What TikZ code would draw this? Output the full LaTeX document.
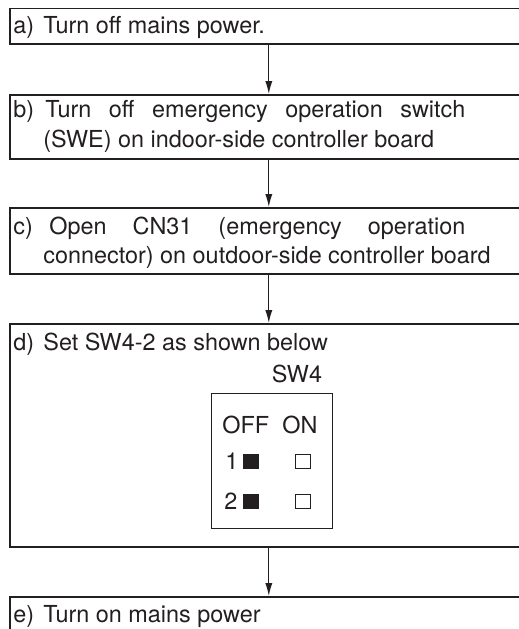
\documentclass[tikz,border=0pt]{standalone}
\usepackage{fontspec}
\setmainfont{TeX Gyre Heros}
\usetikzlibrary{arrows.meta,positioning}
\definecolor{ink}{HTML}{231F20}
\newcommand\steplabel[1]{\makebox[15pt][l]{#1}}

\begin{document}
\begin{tikzpicture}[x=0.5pt,y=-0.5pt,
  stepbox/.style={draw=ink,line width=0.8pt,minimum width=259pt,anchor=north west,inner sep=0pt},
  line/.style={anchor=base west,inner sep=0pt,text=ink,font=\fontsize{11.7}{14}\selectfont},
  flow/.style={-{Latex[length=6.5pt,width=3.6pt]},draw=ink,line width=0.6pt},
  offkey/.style={fill=ink,minimum width=8pt,minimum height=7.5pt,inner sep=0pt},
  onkey/.style={draw=ink,line width=0.5pt,minimum width=7.5pt,minimum height=7pt,inner sep=0pt}
]
  \clip (0,0) rectangle (519,629);

  % step boxes
  \node[stepbox,minimum height=17.75pt] (a) at (9,7.5) {};
  \node[stepbox,minimum height=32pt] (b) at (9,94) {};
  \node[stepbox,minimum height=33pt] (c) at (9,207) {};
  \node[stepbox,minimum height=111.5pt] (d) at (9,323) {};
  \node[stepbox,minimum height=40pt] (e) at (9,596) {};

  \draw[flow] (a) -- (b);
  \draw[flow] (b) -- (c);
  \draw[flow] (c) -- (d);
  \draw[flow] (d) -- (e);

  % texts
  \node[line] (ta) at (13,33) {\steplabel{a)}Turn off mains power.};
  \node[line] (tb1) at (13,117) {\makebox[16pt][l]{b)}\makebox[210pt][s]{Turn off emergency operation switch}};
  \node[line] (tb2) at (43,147) {(SWE) on indoor-side controller board};
  \node[line] (tc1) at (13,234) {\makebox[18pt][l]{c)}\makebox[208pt][s]{Open CN31 (emergency operation}};
  \node[line] (tc2) at (43,263) {connector) on outdoor-side controller board};
  \node[line] (td) at (13,350) {\steplabel{d)}Set SW4-2 as shown below};
  \node[line] (te) at (13,622) {\steplabel{e)}Turn on mains power};

  % SW4 switch
  \node[line,anchor=base] (swname) at (297,382) {SW4};
  \node[draw=ink,line width=0.7pt,minimum width=60.5pt,minimum height=67.5pt,
    anchor=north west,inner sep=0pt] (sw) at (211,393) {};
  \node[line] (off) at (222,433) {OFF};
  \node[line] (on) at (282,433) {ON};
  \node[line] (n1) at (225,469) {1};
  \node[line] (n2) at (224,509) {2};
  \node[offkey] (k1off) at (251,461.5) {};
  \node[offkey] (k2off) at (251,501) {};
  \node[onkey] (k1on) at (303.5,461.5) {};
  \node[onkey] (k2on) at (303.5,501) {};
\end{tikzpicture}
\end{document}
